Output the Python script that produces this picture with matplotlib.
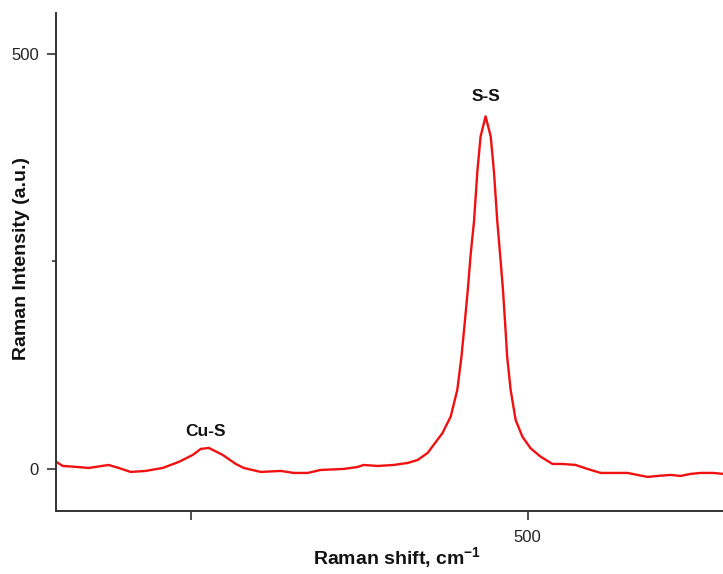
import numpy as np
import matplotlib
matplotlib.use("Agg")
import matplotlib.pyplot as plt
from matplotlib.ticker import FixedLocator, FixedFormatter

# Raman spectrum
shift = [149.9, 155.0, 162.5, 174.3, 189.0, 196.5, 205.4, 216.5, 229.2, 241.0,
         251.5, 257.4, 263.4, 273.7, 283.4, 289.3, 301.9, 316.8, 326.4, 336.8,
         346.4, 363.5, 373.9, 378.3, 388.7, 400.6, 411.0, 418.4, 425.8, 429.3,
         436.7, 442.9, 447.8, 450.9, 453.3, 455.6, 457.7, 460.2, 462.7, 465.1,
         468.8, 472.6, 475.0, 477.5, 480.0, 481.7, 483.3, 484.8, 487.4, 491.1,
         496.1, 502.2, 509.6, 518.5, 526.0, 535.6, 544.5, 554.2, 563.8, 574.2,
         581.6, 589.0, 596.4, 606.1, 613.5, 620.9, 628.3, 638.0, 645.4]
intensity = [8.8, 3.6, 2.8, 1.2, 4.8, 1.2, -3.6, -2.4, 1.2, 8.4,
             16.9, 24.1, 25.3, 16.9, 6.0, 1.2, -3.6, -2.4, -4.8, -4.8,
             -1.2, 0.0, 2.4, 4.8, 3.6, 4.8, 7.2, 10.8, 19.3, 26.9,
             43.0, 63.0, 95.2, 135.3, 175.5, 215.7, 257.8, 297.9, 358.2, 400.4,
             424.5, 400.4, 358.2, 297.9, 249.8, 215.7, 175.5, 135.3, 95.2, 59.0,
             38.9, 24.9, 14.8, 6.0, 6.0, 4.8, 0.0, -4.8, -4.8, -4.8,
             -7.2, -9.6, -8.4, -7.2, -8.4, -6.0, -4.8, -4.8, -6.0]

peak_labels = ["Cu-S", "S-S"]
peak_x = [261.1, 468.8]
peak_y = [44.6, 448.0]

x_ticks = [250, 500]
x_ticklabels = ["", "500"]
y_ticks = [0, 500]
y_ticklabels = ["0", "500"]
y_minor = [250]

plt.rcParams["font.family"] = ["Liberation Sans", "DejaVu Sans"]
plt.rcParams["mathtext.fontset"] = "custom"
plt.rcParams["mathtext.rm"] = "Liberation Sans"
plt.rcParams["mathtext.bf"] = "Liberation Sans:bold"

fig = plt.figure(figsize=(7.23, 5.74), dpi=100)
ax = fig.add_axes([0.0775, 0.1098, 0.9225, 0.8676])

ax.plot(shift, intensity, color="#f01010", lw=1.7, solid_joinstyle="round")

for lbl, px, py in zip(peak_labels, peak_x, peak_y):
    ax.text(px, py, lbl, ha="center", va="center", fontsize=12.5, fontweight="bold", color="#111111")

ax.set_xlim(150, 645)
ax.set_ylim(-50.6, 549)

for side in ["top", "right"]:
    ax.spines[side].set_visible(False)
for side in ["left", "bottom"]:
    ax.spines[side].set_linewidth(1.4)
    ax.spines[side].set_color("#333333")

ax.xaxis.set_major_locator(FixedLocator(x_ticks))
ax.xaxis.set_major_formatter(FixedFormatter(x_ticklabels))
ax.yaxis.set_major_locator(FixedLocator(y_ticks))
ax.yaxis.set_major_formatter(FixedFormatter(y_ticklabels))
ax.yaxis.set_minor_locator(FixedLocator(y_minor))

ax.tick_params(axis="both", which="major", direction="out", length=6.5, width=1.2,
               color="#333333", labelsize=12, labelcolor="#222222", pad=6)
ax.tick_params(axis="x", which="major", pad=7.5)
ax.tick_params(axis="y", which="minor", direction="out", length=3, width=1.2, color="#333333")

ax.set_xlabel(r"Raman shift, cm$^{\mathbf{-1}}$", fontsize=14, fontweight="bold", color="#111111")
ax.set_ylabel("Raman Intensity (a.u.)", fontsize=14, fontweight="bold", color="#111111")
ax.xaxis.set_label_coords(0.511, -0.070)
ax.yaxis.set_label_coords(-0.039, 0.506)

fig.savefig("out.png", dpi=100)
